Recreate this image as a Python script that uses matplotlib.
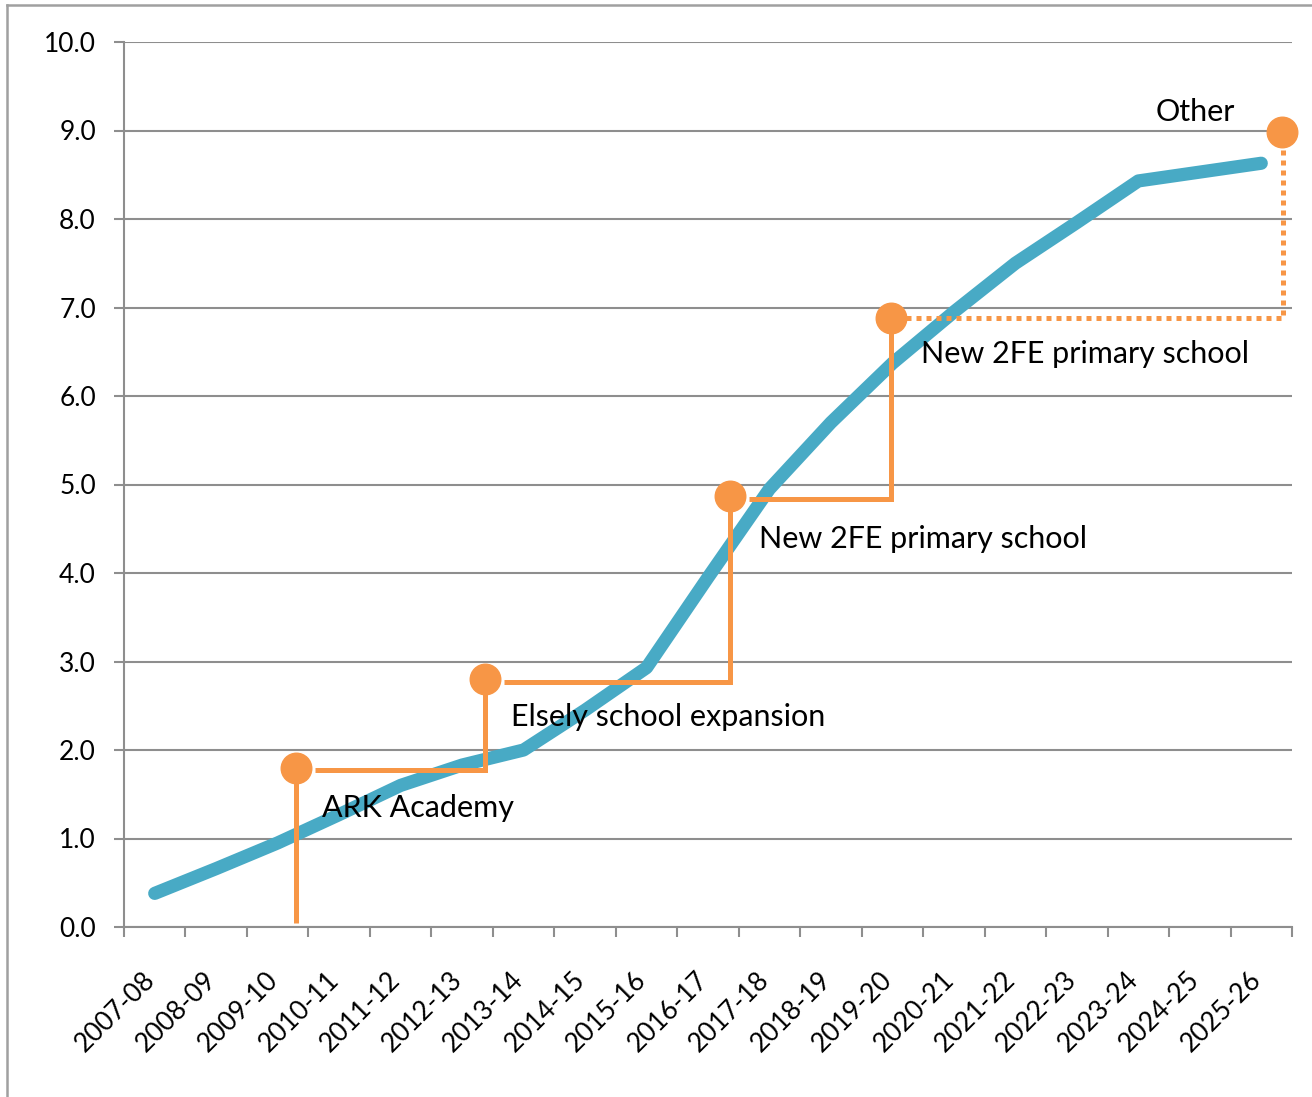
import matplotlib
matplotlib.use('Agg')
import matplotlib.pyplot as plt
import matplotlib.transforms as mtransforms
from matplotlib.lines import Line2D

# school places data (forms of entry)
years = ['2007-08', '2008-09', '2009-10', '2010-11', '2011-12', '2012-13', '2013-14',
         '2014-15', '2015-16', '2016-17', '2017-18', '2018-19', '2019-20', '2020-21',
         '2021-22', '2022-23', '2023-24', '2024-25', '2025-26']
demand = [0.38, 0.66, 0.95, 1.27, 1.60, 1.83, 2.0, 2.45, 2.93, 3.95, 4.95, 5.70,
          6.37, 6.95, 7.5, 7.96, 8.43, 8.53, 8.63]

# supply milestones (x in category units)
milestone_x = [2.30, 5.38, 9.36, 11.97, 18.34]
milestone_y = [1.80, 2.80, 4.87, 6.88, 8.98]
milestone_labels = ['ARK Academy', 'Elsely school expansion', 'New 2FE primary school',
                    'New 2FE primary school', 'Other']

plt.rcParams['font.family'] = ['Lato', 'DejaVu Sans']

BLUE = '#48AAC5'
ORANGE = '#F79646'
GRID = '#8E8E8E'

fig = plt.figure(figsize=(13.12, 10.97), dpi=100)
ax = fig.add_axes([124 / 1312, 1 - 927 / 1097, 1168 / 1312, 885 / 1097])

x = list(range(len(years)))
ax.plot(x, demand, color=BLUE, lw=9.5, solid_capstyle='round', solid_joinstyle='round', zorder=3)

# step connectors between milestones
ax.plot([milestone_x[0], milestone_x[0]], [0.05, milestone_y[0]], color=ORANGE, lw=3.6,
        solid_capstyle='butt', zorder=4)
for i in range(len(milestone_x) - 1):
    x0, y0 = milestone_x[i], milestone_y[i]
    x1, y1 = milestone_x[i + 1], milestone_y[i + 1]
    if i < 3:
        ax.plot([x0 + 0.3, x1, x1], [y0 - 0.03, y0 - 0.03, y1], color=ORANGE, lw=3.6,
                solid_joinstyle='miter', solid_capstyle='butt', zorder=4, clip_on=False)
    else:
        ax.plot([x0 + 0.25, x1 + 0.02, x1 + 0.02], [y0, y0, y1], color=ORANGE, lw=3.6,
                linestyle=(0, (1, 1)), dash_capstyle='butt', zorder=4, clip_on=False)
ax.plot(milestone_x, milestone_y, 'o', color=ORANGE, ms=22, mec=ORANGE, zorder=5, clip_on=False)

label_pos = [(2.72, 1.35, 'left'), (5.79, 2.37, 'left'), (9.83, 4.38, 'left'),
             (12.47, 6.48, 'left'), (17.57, 9.21, 'right')]
for (lx, ly, ha), txt in zip(label_pos, milestone_labels):
    ax.text(lx, ly, txt, fontsize=22, ha=ha, va='center', color='black', zorder=6)

ax.set_xlim(-0.5, len(years) - 0.5)
ax.set_ylim(0, 10)
ax.set_yticks([i for i in range(11)])
ax.set_yticklabels([f'{i:.1f}' for i in range(11)], fontsize=19)
ax.set_xticks([i - 0.5 for i in range(len(years) + 1)])
ax.set_xticklabels([])
ax.tick_params(axis='both', colors=GRID, width=1.5, length=7.2, direction='out')
ax.tick_params(axis='y', labelcolor='black', pad=13)
ax.grid(axis='y', color=GRID, lw=1.5)
ax.set_axisbelow(True)
for s in ['top', 'right']:
    ax.spines[s].set_visible(False)
for s in ['left', 'bottom']:
    ax.spines[s].set_color(GRID)
    ax.spines[s].set_linewidth(1.5)

# rotated category labels
offset = mtransforms.ScaledTranslation(-0.04, -0.49, fig.dpi_scale_trans)
for i, yr in enumerate(years):
    ax.text(i, 0, yr, transform=ax.get_xaxis_transform() + offset, rotation=45,
            rotation_mode='anchor', ha='right', va='center', fontsize=19)

# outer chart frame
fig.add_artist(Line2D([7 / 1312, 1], [1 - 5 / 1097, 1 - 5 / 1097], color='#A0A0A0', lw=1.8))
fig.add_artist(Line2D([7 / 1312, 7 / 1312], [0, 1 - 5 / 1097], color='#A0A0A0', lw=1.8))

fig.savefig('out.png', dpi=100)
